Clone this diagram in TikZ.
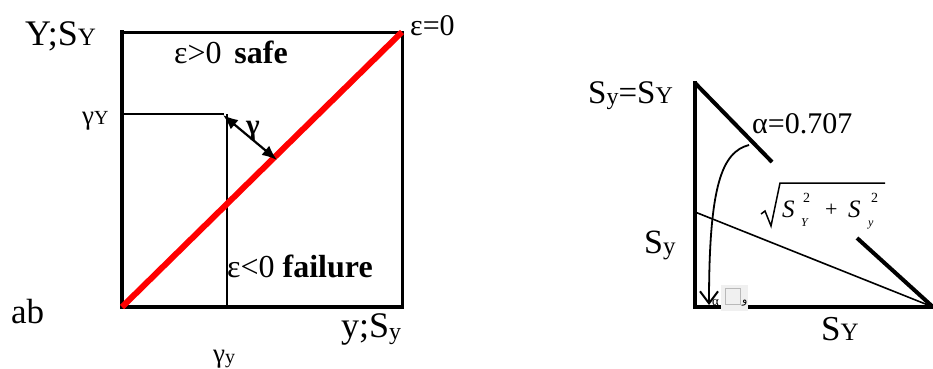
\documentclass[tikz,border=0pt]{standalone}
\usepackage{fontspec}
\setmainfont{Liberation Serif}
\newfontfamily\arabicfont[Script=Arabic]{DejaVu Sans}
\TeXXeTstate=1
\usetikzlibrary{arrows.meta}
\newcommand\dn[3]{\raisebox{-#2pt}{\fontsize{#1pt}{#1pt}\selectfont #3}}
\newcommand\fs[1]{\fontsize{#1pt}{#1pt}\selectfont}
\begin{document}
\begin{tikzpicture}[x=1pt,y=-1pt,
  lbl/.style={inner sep=0pt, anchor=base west},
  heavy/.style={line width=4pt, line cap=rect},
  medium/.style={line width=3pt, line cap=rect},
  thinline/.style={line width=1.6pt},
  redline/.style={line width=6pt, red},
  dblarrow/.style={line width=2.2pt, {Latex[length=15pt,width=12pt]}-{Latex[length=15pt,width=12pt]}},
  curvearrow/.style={line width=1.8pt, -{Straight Barb[length=12pt,width=18pt,line width=2pt]}}]
\useasboundingbox (0,0) rectangle (933,368);

% ---------- left diagram ----------
\coordinate (O) at (122,307);
\coordinate (TL) at (122,32);
\coordinate (TR) at (402,32);
\coordinate (BR) at (402,307);
\draw[medium] (TL) -- (TR) -- (BR);
\draw[heavy] (TL) -- (O) -- (BR);
\coordinate (gY) at (122,114);
\coordinate (gC) at (224,114);
\coordinate (gV) at (227,114);
\coordinate (gB) at (227,307);
\draw[thinline] (gY) -- (gC);
\draw[thinline] (gV) -- (gB);
\draw[redline] (O) -- (TR);
\coordinate (a1) at (223,115);
\coordinate (a2) at (277,160);
\draw[dblarrow] (a1) -- (a2);

\node[lbl] (lYS) at (25,45) {\fs{36}Y;S\dn{25}{0}{Y}};
\node[lbl] (leps0) at (410,35) {\fs{30}ε=0};
\node[lbl] (lsafe) at (174,63) {\fs{32}ε>0\hspace{0.4em}\textbf{safe}};
\node[lbl] (lgY) at (82,124) {\fs{27}γ\dn{20}{0}{Y}};
\node[lbl] (lgam) at (246,134) {\fs{29}\textbf{γ}};
\node[lbl] (lfail) at (227,277) {\fs{32}ε<0 \textbf{failure}};
\node[lbl] (lab) at (11,323) {\fs{35}ab};
\node[lbl] (lys) at (341,337) {\fs{36}y;S\dn{24}{2}{y}};
\node[lbl] (lgy) at (213,362) {\fs{27}γ\dn{20}{1}{y}};

% ---------- right diagram ----------
\coordinate (P) at (695,83);
\coordinate (Q) at (695,307);
\coordinate (R) at (933,307);
\coordinate (D1) at (772,162);
\coordinate (D2) at (857,238);
\coordinate (M) at (695,212);
\draw[heavy] (P) -- (Q) -- (R);
\draw[heavy, line cap=butt] (P) -- (D1);
\draw[heavy, line cap=butt] (D2) -- (R);
\draw[thinline] (M) -- (R);
\coordinate (c1) at (749,145);
\coordinate (c2) at (709,305);
\draw[curvearrow] (c1) .. controls (722,152) and (709,185) .. (c2);

\node[lbl] (lSS) at (588,103) {\fs{33}S\dn{24}{1}{y}=S\dn{24}{0}{Y}};
\node[lbl] (lalpha) at (752,133) {\fs{30}α=0.707};
\node[lbl] (lSy) at (644,253) {\fs{34}S\dn{25}{1}{y}};
\node[lbl] (lSY) at (821,340) {\fs{35}S\dn{25}{0}{Y}};

% square root expression
\coordinate (r0) at (761,214);
\coordinate (r1) at (765,211);
\coordinate (r2) at (771,226);
\coordinate (r3) at (780,183);
\coordinate (r4) at (885,183);
\draw[line width=1.5pt, line join=miter] (r0) -- (r1) -- (r2) -- (r3) -- (r4);
\node[lbl] (sq1) at (782,217) {\fs{25}\itshape S};
\node[lbl] (sq2) at (803,202) {\fs{14}2};
\node[lbl] (sq3) at (801,226) {\fs{12}\itshape Y};
\node[lbl] (sq4) at (825,216) {\fs{22}+};
\node[lbl] (sq5) at (848,217) {\fs{25}\itshape S};
\node[lbl] (sq6) at (871,202) {\fs{14}2};
\node[lbl] (sq7) at (868,226) {\fs{12}\itshape y};

% small alpha with missing-glyph box and Arabic letter
\node[lbl] (sa) at (712,305) {\fs{13}α};
\fill[gray!12] (721,285) rectangle (748,311);
\draw[gray!55, line width=1pt] (725,288) rectangle (740,304);
\node[lbl] (waw) at (742,303) {\fs{11}\arabicfont\beginR و\endR};
\end{tikzpicture}
\end{document}
